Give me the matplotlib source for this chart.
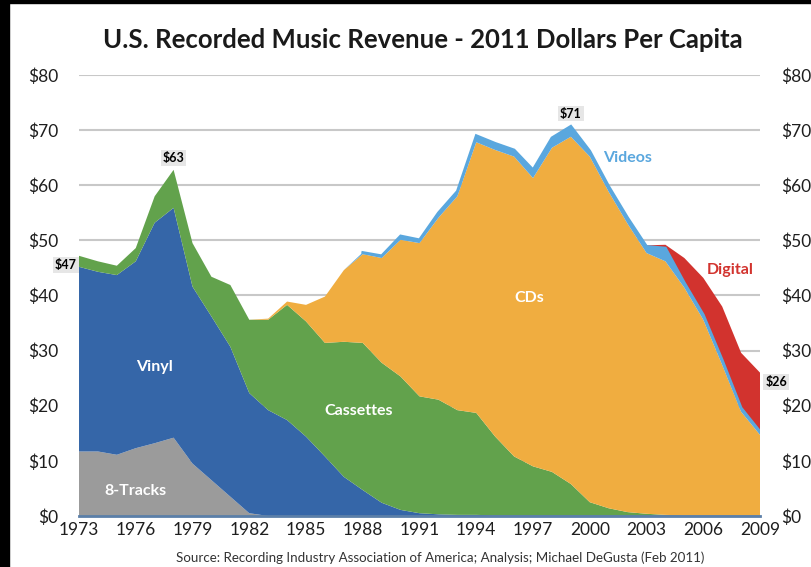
import matplotlib
matplotlib.use("Agg")
import matplotlib.pyplot as plt
import numpy as np

plt.rcParams['font.family'] = ['Lato', 'DejaVu Sans']

years = list(range(1973, 2010))

# dollars per capita (2011 dollars)
eight_tracks = [11.7, 11.7, 11.1, 12.3, 13.2, 14.2, 9.5, 6.5, 3.5, 0.5,
                0, 0, 0, 0, 0, 0, 0, 0, 0, 0, 0, 0, 0, 0, 0, 0, 0,
                0, 0, 0, 0, 0, 0, 0, 0, 0, 0]
vinyl = [33.5, 32.6, 32.6, 33.9, 40.0, 41.7, 32.1, 29.7, 27.2, 21.8,
         19.2, 17.4, 14.4, 10.8, 7.1, 4.7, 2.4, 1.1, 0.5, 0.3, 0.2, 0.2,
         0.1, 0.1, 0.1, 0.1, 0.1, 0.1, 0.1, 0.1, 0.1, 0.1, 0.1, 0.1, 0.1, 0.1, 0.1]
cassettes = [2.0, 1.9, 1.7, 2.4, 4.8, 6.9, 7.9, 7.2, 11.2, 13.3,
             16.4, 20.9, 20.9, 20.6, 24.5, 26.7, 25.4, 24.2, 21.2, 20.8, 19.0, 18.5,
             14.3, 10.7, 8.9, 7.9, 5.7, 2.4, 1.3, 0.6, 0.3, 0.1, 0, 0, 0, 0, 0]
cds = [0, 0, 0, 0, 0, 0, 0, 0, 0, 0,
       0.2, 0.6, 3.0, 8.4, 13.0, 16.1, 19.0, 24.8, 27.8, 33.0, 38.8, 49.1,
       52.0, 54.4, 52.3, 58.8, 63.0, 62.7, 57.4, 52.3, 47.3, 46.0, 41.3, 35.5, 27.3, 18.8, 14.6]
videos = [0, 0, 0, 0, 0, 0, 0, 0, 0, 0,
          0, 0, 0, 0, 0, 0.3, 0.4, 0.7, 0.6, 0.9, 0.9, 1.2,
          1.2, 1.2, 1.5, 1.8, 1.9, 1.0, 1.0, 1.1, 1.2, 2.4, 0.9, 0.9, 0.9, 0.7, 0.6]
digital = [0, 0, 0, 0, 0, 0, 0, 0, 0, 0,
           0, 0, 0, 0, 0, 0, 0, 0, 0, 0, 0, 0,
           0, 0, 0, 0, 0, 0, 0, 0, 0.2, 0.6, 4.5, 6.7, 9.7, 10.0, 10.7]

colors = ['#9b9b9b', '#3566a8', '#62a24c', '#f0ad40', '#5aa7de', '#d2332e']

fig = plt.figure(figsize=(8.12, 5.67), dpi=100)
ax = fig.add_axes([0.0973, 0.09, 0.8387, 0.7777])

ax.stackplot(years, eight_tracks, vinyl, cassettes, cds, videos, digital,
             colors=colors, linewidth=0)

# stroke along top of the video band
video_top = np.sum([eight_tracks, vinyl, cassettes, cds, videos], axis=0)
ax.plot(years[15:], video_top[15:], color=colors[4], lw=2, solid_joinstyle='miter')

ax.set_xlim(1973, 2009)
ax.set_ylim(0, 80)
ax.set_xticks(range(1973, 2010, 3))
ax.set_yticks(range(0, 90, 10))
ax.set_yticklabels(['$%d' % v for v in range(0, 90, 10)])
ax.tick_params(axis='both', length=0, labelsize=12.5, colors='#1e1e1e')
ax.tick_params(axis='y', labelright=True, pad=15)
ax.tick_params(axis='x', pad=4)
ax.grid(axis='y', color='#c8c8c8', lw=1.5)
ax.set_axisbelow(True)
for s in ['top', 'left', 'right']:
    ax.spines[s].set_visible(False)
ax.spines['bottom'].set_color('#5b7fa8')
ax.spines['bottom'].set_linewidth(2)

# series labels
ax.text(1977.0, 27, 'Vinyl', color='white', fontsize=11.5, fontweight='bold', ha='center', va='center')
ax.text(1976.0, 4.6, '8-Tracks', color='white', fontsize=11.5, fontweight='bold', ha='center', va='center')
ax.text(1987.8, 19.0, 'Cassettes', color='white', fontsize=11.5, fontweight='bold', ha='center', va='center')
ax.text(1996.8, 39.5, 'CDs', color='white', fontsize=11.5, fontweight='bold', ha='center', va='center')
ax.text(2002.0, 65.0, 'Videos', color='#5aa7de', fontsize=11.5, fontweight='bold', ha='center', va='center')
ax.text(2007.4, 44.6, 'Digital', color='#d2332e', fontsize=11.5, fontweight='bold', ha='center', va='center')

# value callouts
box = dict(boxstyle='square,pad=0.15', fc='#e6e6e6', ec='none')
ax.text(1972.3, 45.5, '$47', fontsize=9, fontweight='bold', ha='center', va='center', bbox=box, clip_on=False)
ax.text(1978.0, 65.0, '$63', fontsize=9, fontweight='bold', ha='center', va='center', bbox=box)
ax.text(1999.0, 73.0, '$71', fontsize=9, fontweight='bold', ha='center', va='center', bbox=box)
ax.text(2009.85, 24.3, '$26', fontsize=9, fontweight='bold', ha='center', va='center', bbox=box, clip_on=False)

fig.text(0.521, 0.93, 'U.S. Recorded Music Revenue - 2011 Dollars Per Capita',
         ha='center', va='center', fontsize=18.5, fontweight='bold', color='#1a1a1a')
fig.text(0.542, 0.016, 'Source: Recording Industry Association of America; Analysis; Michael DeGusta (Feb 2011)',
         ha='center', va='center', fontsize=9.6, color='#333333')

# black edge of the original screenshot
fig.patches.append(plt.Rectangle((0, 0), 0.011, 1, transform=fig.transFigure, color='black'))
fig.patches.append(plt.Rectangle((0, 0.995), 1, 0.005, transform=fig.transFigure, color='black'))

fig.savefig('out.png', dpi=100)
